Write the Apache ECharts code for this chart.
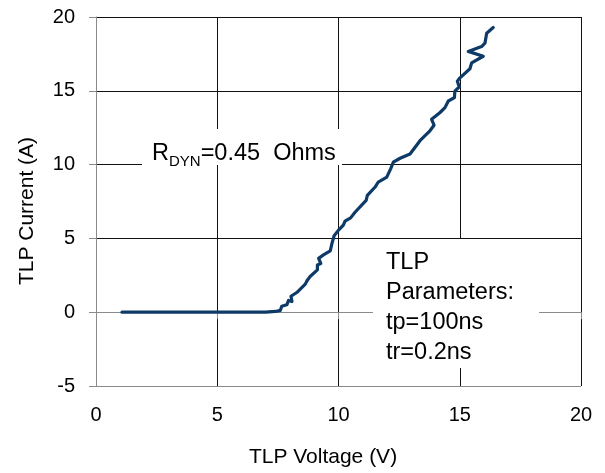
<!DOCTYPE html>
<html>
<head>
<meta charset="utf-8">
<script src="https://cdn.jsdelivr.net/npm/echarts@6/dist/echarts.min.js"></script>
<style>
html,body{margin:0;padding:0;background:#fff;}
#chart{width:605px;height:473px;}
</style>
</head>
<body>
<div id="chart"></div>
<script>
// TLP Voltage (V)
var voltage = [1.07, 2, 3, 4, 5, 6, 7.0, 7.4, 7.6, 7.66, 7.87, 7.94, 8.08, 8.04, 8.31, 8.63, 8.7, 8.83, 9.13, 9.13, 9.27, 9.18, 9.38, 9.66, 9.73, 9.82, 10.0, 10.2, 10.27, 10.5, 10.69, 11.14, 11.19, 11.51, 11.64, 11.99, 12.15, 12.26, 12.54, 12.95, 13.36, 13.77, 13.94, 13.84, 14.19, 14.39, 14.53, 14.78, 14.8, 14.98, 14.9, 15.01, 15.42, 15.49, 15.97, 15.35, 15.9, 16.04, 16.11, 16.38];
// TLP Current (A)
var current = [0, 0, 0, 0, 0, 0, 0, 0.05, 0.12, 0.4, 0.5, 0.8, 0.72, 1.08, 1.37, 1.9, 2.13, 2.42, 2.87, 3.2, 3.3, 3.65, 3.88, 4.15, 4.66, 5.18, 5.56, 5.9, 6.17, 6.39, 6.79, 7.58, 7.91, 8.48, 8.82, 9.15, 9.71, 10.16, 10.43, 10.72, 11.62, 12.29, 12.67, 13.07, 13.53, 13.86, 14.31, 14.54, 14.98, 15.27, 15.65, 15.88, 16.49, 16.89, 17.34, 17.67, 18.0, 18.23, 18.9, 19.29];
var xTicks = [0, 5, 10, 15, 20];
var yTicks = [-5, 0, 5, 10, 15, 20];
var xTitle = 'TLP Voltage (V)';
var yTitle = 'TLP Current (A)';
var noteParams = ['TLP', 'Parameters:', 'tp=100ns', 'tr=0.2ns'];

var FONT = '"Liberation Sans", Arial, sans-serif';
var points = voltage.map(function (v, i) { return [v, current[i]]; });

var chart = echarts.init(document.getElementById('chart'), null, {renderer: 'canvas'});
var gridDark = '#111111';
var axisGray = '#8a8a8a';

chart.setOption({
  animation: false,
  backgroundColor: '#ffffff',
  grid: {left: 96, right: 24, top: 17, bottom: 85, containLabel: false},
  xAxis: {
    type: 'value',
    min: xTicks[0], max: xTicks[xTicks.length - 1], interval: 5,
    name: xTitle,
    nameLocation: 'middle',
    nameGap: 61,
    nameTextStyle: {fontFamily: FONT, fontSize: 21, color: '#000', padding: [0, 31, 0, 0]},
    axisLine: {show: true, lineStyle: {color: axisGray, width: 1}},
    axisTick: {show: true, inside: false, length: 7, lineStyle: {color: axisGray}},
    axisLabel: {fontFamily: FONT, fontSize: 20, color: '#000', margin: 19},
    splitLine: {show: true, lineStyle: {color: xTicks.map(function (t, i) { return i === 0 ? axisGray : gridDark; }), width: 1}}
  },
  yAxis: {
    type: 'value',
    min: yTicks[0], max: yTicks[yTicks.length - 1], interval: 5,
    name: yTitle,
    nameLocation: 'middle',
    nameGap: 58,
    nameTextStyle: {fontFamily: FONT, fontSize: 21, color: '#000', padding: [0, 19, 0, 0]},
    axisLine: {show: true, lineStyle: {color: axisGray, width: 1}},
    axisTick: {show: true, inside: false, length: 7, lineStyle: {color: axisGray}},
    axisLabel: {fontFamily: FONT, fontSize: 20, color: '#000', margin: 21},
    splitLine: {show: true, lineStyle: {color: yTicks.map(function (t, i) { return i === 0 ? axisGray : gridDark; }), width: 1}}
  },
  series: [{
    type: 'line',
    data: points,
    showSymbol: false,
    smooth: false,
    lineStyle: {color: '#0e3a68', width: 3.2, join: 'round', cap: 'round'},
    z: 3
  }],
  graphic: [
    {type: 'rect', z: 10, shape: {x: 142, y: 129, width: 200, height: 36}, style: {fill: '#fff'}},
    {type: 'text', z: 11, left: 152, top: 142,
      style: {
        text: '{m|R}{s|DYN}{m|=0.45  Ohms}',
        rich: {
          m: {fontFamily: FONT, fontSize: 23.5, lineHeight: 30, fill: '#000'},
          s: {fontFamily: FONT, fontSize: 15, lineHeight: 15, verticalAlign: 'bottom', fill: '#000'}
        }
      }},
    {type: 'rect', z: 10, shape: {x: 373, y: 239, width: 166, height: 129}, style: {fill: '#fff'}},
    {type: 'text', z: 11, left: 386, top: 248,
      style: {text: noteParams.join('\n'), fontFamily: FONT, fontSize: 23.5, lineHeight: 29.8, fill: '#000'}}
  ]
});
</script>
</body>
</html>
